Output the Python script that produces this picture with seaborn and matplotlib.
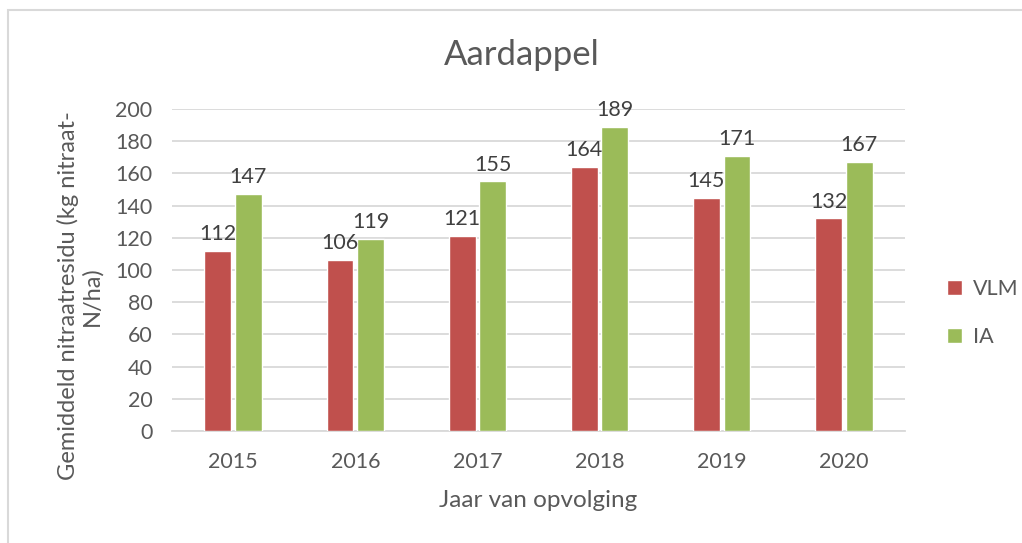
import pandas as pd
import seaborn as sns
import matplotlib.pyplot as plt
from matplotlib.patches import Rectangle

years = ['2015', '2016', '2017', '2018', '2019', '2020']
vlm = [112, 106, 121, 164, 145, 132]
ia = [147, 119, 155, 189, 171, 167]

df = pd.DataFrame({
    'jaar': years * 2,
    'waarde': vlm + ia,
    'bron': ['VLM'] * len(years) + ['IA'] * len(years),
})

sns.set_style('white')
plt.rcParams['font.family'] = ['Lato', 'DejaVu Sans']
txt = '#595959'

fig = plt.figure(figsize=(10.22, 5.43), dpi=100)
ax = fig.add_axes([172 / 1022, 1 - 431 / 543, 733 / 1022, 322 / 543])

sns.barplot(data=df, x='jaar', y='waarde', hue='bron', order=years,
            hue_order=['VLM', 'IA'], palette=['#C0504D', '#9BBB59'],
            width=0.5, gap=0.12, saturation=1, ax=ax, zorder=3)

for cont in ax.containers:
    ax.bar_label(cont, padding=5, fontsize=15.5, color='#404040')

ax.set_ylim(0, 200)
ax.set_yticks(range(0, 201, 20))
ax.grid(axis='y', color='#D9D9D9', linewidth=1.3, zorder=0)
for s in ['top', 'right', 'left']:
    ax.spines[s].set_visible(False)
ax.spines['bottom'].set_color('#D9D9D9')
ax.spines['bottom'].set_linewidth(1.3)
ax.tick_params(axis='both', length=0, labelsize=15.5, labelcolor=txt)
ax.tick_params(axis='y', pad=14)
ax.tick_params(axis='x', pad=15)

ax.set_xlabel('Jaar van opvolging', fontsize=17.5, color=txt, labelpad=13)
ax.set_ylabel('Gemiddeld nitraatresidu (kg nitraat-\nN/ha)', fontsize=17,
              color=txt, linespacing=1.1)
ax.yaxis.set_label_coords(-0.095, 0.42)
fig.text(522 / 1022, 1 - 55 / 543, 'Aardappel', fontsize=25, color=txt,
         ha='center', va='center')

ax.legend(loc='center left', bbox_to_anchor=(928 / 1022, 1 - 313 / 543),
          bbox_transform=fig.transFigure, frameon=False, fontsize=15.5,
          labelcolor=txt, handlelength=0.7, handleheight=0.7,
          handletextpad=0.5, labelspacing=1.3)

fig.patches.append(Rectangle((8 / 1022, -0.1), 1.1, 1 - 9.5 / 543 + 0.1,
                             transform=fig.transFigure, fill=False,
                             edgecolor='#D9D9D9', linewidth=1.5))

fig.savefig('out.png', dpi=100)
